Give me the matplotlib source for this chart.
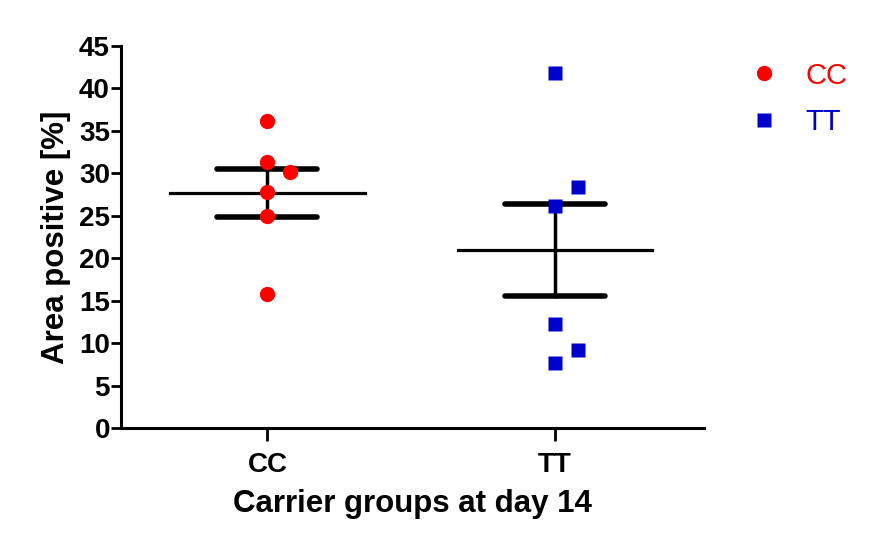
import matplotlib.pyplot as plt
import numpy as np

plt.rcParams['font.family'] = ['Liberation Sans', 'DejaVu Sans']

groups = ['CC', 'TT']
cc_vals = [36.2, 31.3, 30.2, 27.8, 25.0, 15.8]
cc_offs = [0, 0, 1, 0, 0, 0]
tt_vals = [41.8, 28.4, 26.2, 12.3, 9.2, 7.6]
tt_offs = [0, 1, 0, 0, 1, 0]
means = [27.7, 21.0]
sem_lo = [24.9, 15.5]
sem_hi = [30.5, 26.4]
colors = ['#ff0000', '#0000cc']
markers = ['o', 's']

fig = plt.figure(figsize=(8.8, 5.45), dpi=100)
ax = fig.add_axes([0.1375, 0.2147, 0.6625, 0.7009])

for i, (vals, offs) in enumerate([(cc_vals, cc_offs), (tt_vals, tt_offs)]):
    xc = i + 1
    ax.plot([xc - 0.338, xc + 0.338], [means[i]] * 2, color='black', lw=2.3, zorder=2)
    ax.plot([xc, xc], [sem_lo[i], sem_hi[i]], color='black', lw=2.5, zorder=2)
    for y in (sem_lo[i], sem_hi[i]):
        ax.plot([xc - 0.174, xc + 0.174], [y, y], color='black', lw=4,
                solid_capstyle='round', zorder=2)
    xs = xc + 0.08 * np.array(offs)
    ms = 11 if markers[i] == 'o' else 10
    ax.plot(xs, vals, markers[i], color=colors[i], ms=ms, mec='none',
            zorder=3, label=groups[i])

ax.set_xlim(0.49, 2.52)
ax.set_ylim(0, 45)
ax.set_yticks(np.arange(0, 46, 5))
ax.set_xticks([1, 2])
ax.set_xticklabels(groups)
for s in ['top', 'right']:
    ax.spines[s].set_visible(False)
for s in ['left', 'bottom']:
    ax.spines[s].set_linewidth(2.2)
ax.tick_params(axis='y', length=7, width=2, labelsize=20, pad=1)
ax.tick_params(axis='x', length=9, width=2, labelsize=20, pad=8)
for lab in ax.get_xticklabels() + ax.get_yticklabels():
    lab.set_fontweight('bold')
ax.set_ylabel('Area positive [%]', fontsize=22.5, fontweight='bold', labelpad=6)
ax.set_xlabel('Carrier groups at day 14', fontsize=22.5, fontweight='bold', labelpad=8)

leg = fig.legend(loc='upper left', bbox_to_anchor=(0.822, 0.935), frameon=False,
                 fontsize=21, handletextpad=0.9, labelspacing=0.62, handlelength=1.0)
for t, c in zip(leg.get_texts(), colors):
    t.set_color(c)

fig.savefig('out.png', dpi=100)
